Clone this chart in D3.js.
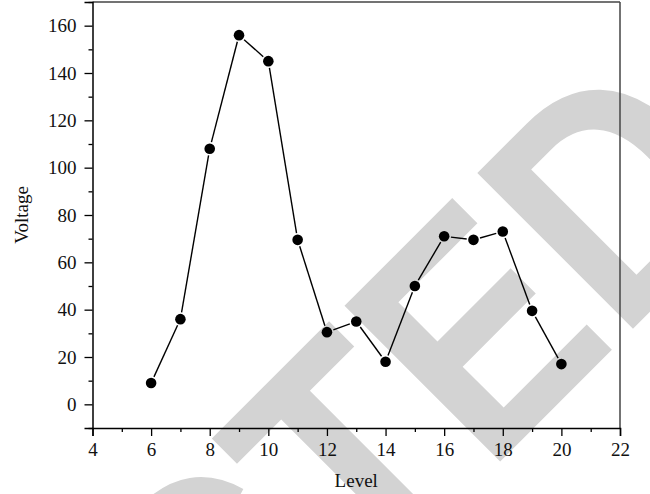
<!DOCTYPE html>
<html>
<head>
<meta charset="utf-8">
<script src="https://cdn.jsdelivr.net/npm/d3@7/dist/d3.min.js"></script>
<style>
  html, body { margin: 0; padding: 0; background: #fff; }
  svg { display: block; }
  text { font-family: "Liberation Serif", "DejaVu Serif", serif; }
</style>
</head>
<body>
<svg id="chart" width="650" height="494"></svg>
<script>
// Data
const levels = [6, 7, 8, 9, 10, 11, 12, 13, 14, 15, 16, 17, 18, 19, 20];
const voltages = [9, 36, 108, 156, 145, 69.5, 30.5, 35, 18, 50, 71, 69.5, 73, 39.5, 17];
const xTicks = [4, 6, 8, 10, 12, 14, 16, 18, 20, 22];
const xMinorTicks = [5, 7, 9, 11, 13, 15, 17, 19, 21];
const yTicks = [0, 20, 40, 60, 80, 100, 120, 140, 160];
const yMinorTicks = [-10, 10, 30, 50, 70, 90, 110, 130, 150, 170];
const xLabel = "Level";
const yLabel = "Voltage";
const watermark = "RETRACTED";

(function () {
const svg = d3.select("#chart");
const mL = 92.5, mR = 620, mT = 2, mB = 428;

const x = d3.scaleLinear().domain([4, 22]).range([mL, mR]);
const y = d3.scaleLinear().domain([-10, 170]).range([mB, mT]);

// Watermark (beneath everything)
const sx = 0.88;
const wm = svg.append("text")
  .attr("transform", `rotate(-45) scale(${sx},1)`)
  .attr("y", 680)
  .attr("x", 0)
  .style("font-family", "'Liberation Sans', Arial, sans-serif")
  .style("font-weight", "bold")
  .style("font-size", "320px")
  .attr("fill", "#d3d3d3")
  .text(watermark);
try {
  const p = wm.node().getStartPositionOfChar(7).x;
  wm.attr("x", 8.5 / sx - p);
} catch (e) {}

// Frame top and right
svg.append("line").attr("x1", mL).attr("x2", mR).attr("y1", mT).attr("y2", mT)
  .attr("stroke", "#444").attr("stroke-width", 1.5);
svg.append("line").attr("x1", mR).attr("x2", mR).attr("y1", mT).attr("y2", mB)
  .attr("stroke", "#444").attr("stroke-width", 1.5);

function styleAxis(g) {
  g.selectAll("path.domain").attr("stroke", "#000").attr("stroke-width", 1.5);
  g.selectAll(".tick line").attr("stroke", "#000").attr("stroke-width", 1.3);
  g.selectAll(".tick text").attr("fill", "#111")
    .style("font-family", "'Liberation Serif', serif").style("font-size", "19px");
}

// X axis
const gx = svg.append("g").attr("transform", `translate(0,${mB})`)
  .call(d3.axisBottom(x).tickValues(xTicks).tickSize(8).tickPadding(7).tickFormat(d3.format("d")));
styleAxis(gx);
const gxm = svg.append("g").attr("transform", `translate(0,${mB})`)
  .call(d3.axisBottom(x).tickValues(xMinorTicks).tickSize(4).tickFormat(""));
gxm.select("path.domain").remove();
styleAxis(gxm);

// Y axis
const gy = svg.append("g").attr("transform", `translate(${mL},0)`)
  .call(d3.axisLeft(y).tickValues(yTicks).tickSize(8).tickPadding(8).tickFormat(d3.format("d")));
styleAxis(gy);
const gym = svg.append("g").attr("transform", `translate(${mL},0)`)
  .call(d3.axisLeft(y).tickValues(yMinorTicks).tickSize(4).tickFormat(""));
gym.select("path.domain").remove();
styleAxis(gym);

// Axis titles
svg.append("text").attr("x", (mL + mR) / 2).attr("y", 487)
  .attr("text-anchor", "middle").style("font-size", "19px").attr("fill", "#111").text(xLabel);
svg.append("text").attr("transform", `translate(28,${(mT + mB) / 2}) rotate(-90)`)
  .attr("text-anchor", "middle").style("font-size", "19px").attr("fill", "#111").text(yLabel);

// Data line with small gaps near markers
const pts = levels.map((l, i) => [x(l), y(voltages[i])]);
const r = 5.3, gap = 1.5;
const segs = [];
for (let i = 0; i < pts.length - 1; i++) {
  const [x1, y1] = pts[i], [x2, y2] = pts[i + 1];
  const dx = x2 - x1, dy = y2 - y1, len = Math.hypot(dx, dy);
  const o = r + gap;
  if (len > 2 * o) {
    segs.push([x1 + dx / len * o, y1 + dy / len * o, x2 - dx / len * o, y2 - dy / len * o]);
  }
}
svg.append("g").selectAll("line").data(segs).join("line")
  .attr("x1", d => d[0]).attr("y1", d => d[1]).attr("x2", d => d[2]).attr("y2", d => d[3])
  .attr("stroke", "#000").attr("stroke-width", 1.4);

svg.append("g").selectAll("circle").data(levels).join("circle")
  .attr("cx", (d) => x(d)).attr("cy", (d, i) => y(voltages[i])).attr("r", r)
  .attr("fill", "#000");
})();
</script>
</body>
</html>
